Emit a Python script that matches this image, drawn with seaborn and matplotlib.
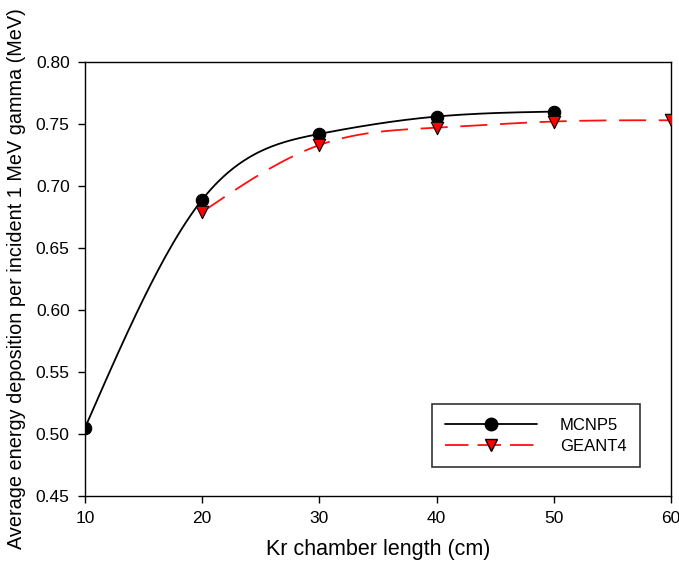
import numpy as np
import pandas as pd
import seaborn as sns
import matplotlib
matplotlib.use("Agg")
import matplotlib.pyplot as plt
from matplotlib.lines import Line2D

# Kr chamber length (cm) and mean deposited energy (MeV)
mcnp_length = [10, 20, 30, 40, 50]
mcnp_energy = [0.505, 0.689, 0.742, 0.756, 0.760]
geant_length = [20, 30, 40, 50, 60]
geant_energy = [0.679, 0.733, 0.747, 0.752, 0.753]

x_ticks = [10, 20, 30, 40, 50, 60]
y_ticks = [0.45, 0.50, 0.55, 0.60, 0.65, 0.70, 0.75, 0.80]


def natural_spline(x, y, n=200):
    """Smooth connecting curve through the measured points (natural cubic spline)."""
    x = np.asarray(x, float)
    y = np.asarray(y, float)
    m = len(x)
    h = np.diff(x)
    A = np.zeros((m, m))
    r = np.zeros(m)
    A[0, 0] = A[-1, -1] = 1.0
    for i in range(1, m - 1):
        A[i, i - 1] = h[i - 1]
        A[i, i] = 2 * (h[i - 1] + h[i])
        A[i, i + 1] = h[i]
        r[i] = 6 * ((y[i + 1] - y[i]) / h[i] - (y[i] - y[i - 1]) / h[i - 1])
    M = np.linalg.solve(A, r)
    xs = np.linspace(x[0], x[-1], n)
    idx = np.clip(np.searchsorted(x, xs) - 1, 0, m - 2)
    x0, x1 = x[idx], x[idx + 1]
    hh = x1 - x0
    a = (x1 - xs) / hh
    b = (xs - x0) / hh
    ys = (a * y[idx] + b * y[idx + 1]
          + ((a ** 3 - a) * M[idx] + (b ** 3 - b) * M[idx + 1]) * hh ** 2 / 6)
    return xs, ys


sns.set_theme(style="ticks")
plt.rcParams["font.family"] = ["Liberation Sans", "DejaVu Sans"]
plt.rcParams["text.color"] = "black"
plt.rcParams["axes.labelcolor"] = "black"

fig = plt.figure(figsize=(6.79, 5.73), dpi=100)
ax = fig.add_axes([0.1252, 0.1344, 0.8628, 0.7574])

mx, my = natural_spline(mcnp_length, mcnp_energy)
gx, gy = natural_spline(geant_length, geant_energy)

sns.lineplot(x=mx, y=my, ax=ax, color="black", lw=1.3, sort=False)
sns.lineplot(x=gx, y=gy, ax=ax, color="#ff1010", lw=1.3, sort=False,
             dashes=False)
ax.lines[-1].set_dashes([15, 7])

sns.scatterplot(x=mcnp_length, y=mcnp_energy, ax=ax, marker="o", s=80,
                color="black", edgecolor="black", linewidth=0.8, zorder=4)
sns.scatterplot(x=geant_length, y=geant_energy, ax=ax, marker="v", s=80,
                color="#ff0000", edgecolor="black", linewidth=0.8, zorder=5)

ax.set_xlim(10, 60)
ax.set_ylim(0.45, 0.80)
ax.set_xticks(x_ticks)
ax.set_xticklabels([str(v) for v in x_ticks])
ax.set_yticks(y_ticks)
ax.set_yticklabels([f"{v:.2f}" for v in y_ticks])
ax.tick_params(axis="both", direction="out", length=5, width=1,
               labelsize=12.5, colors="black", pad=6)
ax.tick_params(top=False, right=False)
for sp in ax.spines.values():
    sp.set_visible(True)
    sp.set_color("black")
    sp.set_linewidth(1.0)

ax.set_xlabel("Kr chamber length (cm)", fontsize=15.5, labelpad=9)
ax.set_ylabel("Average energy deposition per incident 1 MeV gamma (MeV)",
              fontsize=14.3, labelpad=7)

handles = [
    Line2D([], [], color="black", lw=1.3, marker="o", markersize=9,
           markerfacecolor="black", markeredgecolor="black"),
    Line2D([], [], color="#ff1010", lw=1.3, dashes=[13, 5], marker="v",
           markersize=9, markerfacecolor="#ff0000", markeredgecolor="black"),
]
leg = ax.legend(handles, ["MCNP5", "GEANT4"], loc="lower right",
                bbox_to_anchor=(0.947, 0.067), fontsize=12, frameon=True,
                fancybox=False, edgecolor="black", handlelength=5.5,
                handletextpad=1.4, borderpad=0.8, labelspacing=0.35,
                borderaxespad=0)
leg.get_frame().set_linewidth(1.2)

fig.savefig("out.png", dpi=100, facecolor="white")
